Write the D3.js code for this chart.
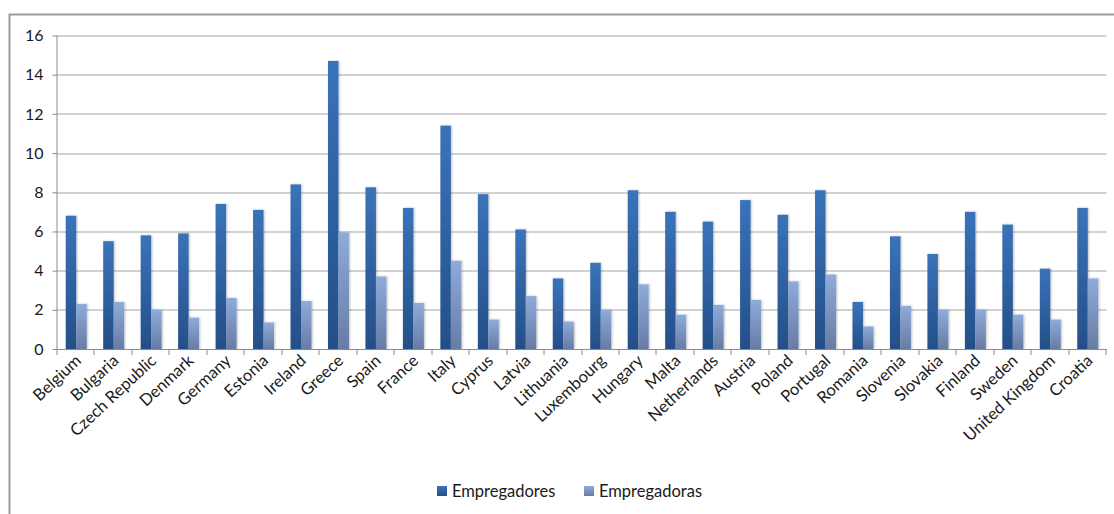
<!DOCTYPE html>
<html>
<head>
<meta charset="utf-8">
<script src="https://cdn.jsdelivr.net/npm/d3@7"></script>
<style>
  html, body { margin: 0; padding: 0; background: #fff; }
  svg { display: block; font-family: Lato, "Open Sans", sans-serif; }
</style>
</head>
<body>
<svg id="chart" width="1114" height="514"></svg>
<script>
// Countries on the category axis
const countries = ["Belgium", "Bulgaria", "Czech Republic", "Denmark", "Germany", "Estonia",
  "Ireland", "Greece", "Spain", "France", "Italy", "Cyprus", "Latvia", "Lithuania",
  "Luxembourg", "Hungary", "Malta", "Netherlands", "Austria", "Poland", "Portugal",
  "Romania", "Slovenia", "Slovakia", "Finland", "Sweden", "United Kingdom", "Croatia"];

// Series names
const seriesNames = ["Empregadores", "Empregadoras"];

// Values per country (%)
const empregadores = [6.8, 5.5, 5.8, 5.9, 7.4, 7.1, 8.4, 14.7, 8.25, 7.2, 11.4, 7.9, 6.1, 3.6,
  4.4, 8.1, 7.0, 6.5, 7.6, 6.85, 8.1, 2.4, 5.75, 4.85, 7.0, 6.35, 4.1, 7.2];
const empregadoras = [2.3, 2.4, 2.0, 1.6, 2.6, 1.35, 2.45, 5.95, 3.7, 2.35, 4.5, 1.5, 2.7, 1.4,
  2.0, 3.3, 1.75, 2.25, 2.5, 3.45, 3.8, 1.15, 2.2, 2.0, 2.0, 1.75, 1.5, 3.6];

// Y-axis ticks
const yTicks = [0, 2, 4, 6, 8, 10, 12, 14, 16];

const svg = d3.select("#chart");
const margin = { left: 57.5, right: 7.5, top: 35.5, bottom: 165 };
const W = 1114, H = 514;
const plotW = W - margin.left - margin.right;
const plotH = H - margin.top - margin.bottom;

// Outer chart frame (extends past the right and bottom edges)
svg.append("rect")
  .attr("x", 9.5).attr("y", 14.5)
  .attr("width", 1120).attr("height", 520)
  .attr("fill", "none").attr("stroke", "#9a9a9a").attr("stroke-width", 2);

const defs = svg.append("defs");
const grads = [
  { id: "gM", top: "#3a73ba", bottom: "#244f88" },
  { id: "gF", top: "#8eabda", bottom: "#677ca4" }
];
grads.forEach(g => {
  const lg = defs.append("linearGradient").attr("id", g.id)
    .attr("x1", 0).attr("y1", 0).attr("x2", 0).attr("y2", 1);
  lg.append("stop").attr("offset", "0%").attr("stop-color", g.top);
  lg.append("stop").attr("offset", "100%").attr("stop-color", g.bottom);
});
const shadow = defs.append("filter").attr("id", "shadow")
  .attr("x", "-30%").attr("y", "-5%").attr("width", "160%").attr("height", "110%");
shadow.append("feDropShadow").attr("dx", 1).attr("dy", 0).attr("stdDeviation", 0.8)
  .attr("flood-color", "#000").attr("flood-opacity", 0.25);

const g = svg.append("g").attr("transform", `translate(${margin.left},${margin.top})`);

const y = d3.scaleLinear().domain([0, 16]).range([plotH, 0]);
const x0 = d3.scaleBand().domain(countries).range([0, plotW])
  .paddingInner(0.44).paddingOuter(0.22);
const x1 = d3.scaleBand().domain(seriesNames).range([0, x0.bandwidth()]);
const step = x0.step();

// Horizontal gridlines
g.append("g").selectAll("line").data(yTicks.filter(t => t > 0)).join("line")
  .attr("x1", 0).attr("x2", plotW)
  .attr("y1", d => Math.round(y(d)) + 0.5).attr("y2", d => Math.round(y(d)) + 0.5)
  .attr("stroke", "#a6a6a6").attr("stroke-width", 1.2);

// Y axis
const yAxis = g.append("g")
  .call(d3.axisLeft(y).tickValues(yTicks).tickSize(5).tickPadding(9))
  .call(a => a.select(".domain").attr("stroke", "#8c8c8c").attr("d", `M-0.5,${plotH}V0`));
yAxis.selectAll(".tick line").attr("stroke", "#8c8c8c");
yAxis.selectAll("text").attr("font-size", 16).attr("fill", "#1a1a1a")
  .attr("font-family", "Lato, sans-serif");

// Bars
const rows = countries.map((c, i) => ({ c, vals: [empregadores[i], empregadoras[i]] }));
const groups = g.append("g").selectAll("g").data(rows).join("g")
  .attr("transform", d => `translate(${x0(d.c)},0)`);
groups.selectAll("rect").data(d => d.vals.map((v, k) => ({ k, v }))).join("rect")
  .attr("x", d => x1(seriesNames[d.k]))
  .attr("width", x1.bandwidth())
  .attr("y", d => y(d.v))
  .attr("height", d => plotH - y(d.v))
  .attr("fill", d => `url(#${grads[d.k].id})`)
  .attr("filter", "url(#shadow)");

// X axis with ticks between categories
const xa = g.append("g").attr("transform", `translate(0,${plotH})`);
xa.append("line").attr("x1", 0).attr("x2", plotW).attr("y1", 0.5).attr("y2", 0.5)
  .attr("stroke", "#8c8c8c");
xa.selectAll("line.tk").data(d3.range(countries.length + 1)).join("line")
  .attr("class", "tk")
  .attr("x1", i => Math.round(i * step) - 0.5).attr("x2", i => Math.round(i * step) - 0.5)
  .attr("y1", 0).attr("y2", 6).attr("stroke", "#8c8c8c");
xa.selectAll("text").data(countries).join("text")
  .attr("transform", d => `translate(${x0(d) + x0.bandwidth() / 2 + 6},${13}) rotate(-43)`)
  .attr("text-anchor", "end")
  .attr("font-size", 16.5).attr("fill", "#1a1a1a")
  .text(d => d);

// Legend
const legend = svg.append("g").attr("transform", "translate(437,491)");
const items = [
  { name: seriesNames[0], grad: "gM", x: 0 },
  { name: seriesNames[1], grad: "gF", x: 147 }
];
items.forEach(it => {
  legend.append("rect").attr("x", it.x).attr("y", -5).attr("width", 10).attr("height", 10)
    .attr("fill", `url(#${it.grad})`);
  legend.append("text").attr("x", it.x + 15).attr("y", 6)
    .attr("font-size", 16.5).attr("fill", "#1a1a1a").text(it.name);
});
</script>
</body>
</html>
